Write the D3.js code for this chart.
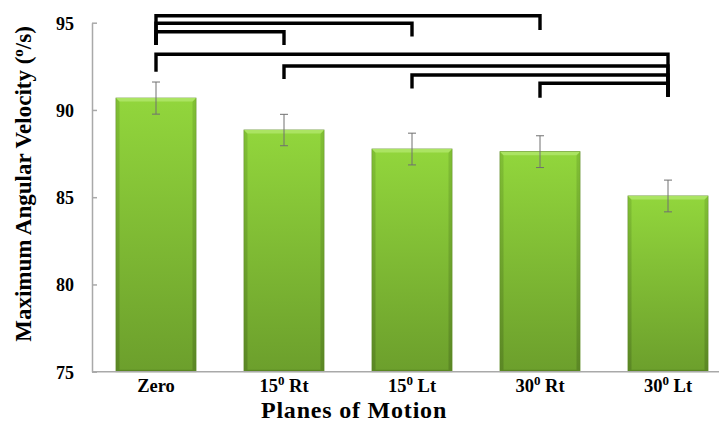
<!DOCTYPE html>
<html>
<head>
<meta charset="utf-8">
<script src="https://cdn.jsdelivr.net/npm/d3@7/dist/d3.min.js"></script>
<style>
  html, body { margin: 0; padding: 0; background: #fff; }
  svg { display: block; }
  text { font-family: "Liberation Serif", "Times New Roman", serif; font-weight: bold; fill: #000; }
</style>
</head>
<body>
<svg id="chart" width="719" height="423"></svg>
<script>
// Planes of motion; "^" marks a superscript "0" (degrees)
const categories = ["Zero", "15^0 Rt", "15^0 Lt", "30^0 Rt", "30^0 Lt"];
const means = [90.68, 88.85, 87.76, 87.61, 85.07];
const errors = [0.92, 0.90, 0.91, 0.91, 0.91];
const yTicks = [75, 80, 85, 90, 95];

// Significance brackets: from / to category index, bar level and end-drop levels (°/s)
const bracketFrom = [0, 0, 0, 0, 1, 2, 3];
const bracketTo = [3, 2, 1, 4, 4, 4, 4];
const bracketLevel = [95.40, 94.97, 94.48, 93.19, 92.52, 92.00, 91.53];
const bracketDropFrom = [93.82, 93.82, 93.82, 92.29, 91.87, 91.33, 90.80];
const bracketDropTo = [94.68, 94.30, 93.82, 90.86, 90.86, 90.86, 90.86];

const svg = d3.select("#chart");

const x = d3.scaleBand().domain(categories).range([92, 732])
  .paddingInner(0.375).paddingOuter(0.1875);
const y = d3.scaleLinear().domain([75, 95]).range([371.7, 22.7]);

// gradients for the bevelled bars
const defs = svg.append("defs");
const g1 = defs.append("linearGradient").attr("id", "barFill")
  .attr("x1", 0).attr("y1", 0).attr("x2", 0).attr("y2", 1);
g1.append("stop").attr("offset", "0%").attr("stop-color", "#92d63c");
g1.append("stop").attr("offset", "100%").attr("stop-color", "#6c9f2c");
const g2 = defs.append("linearGradient").attr("id", "sideFill")
  .attr("x1", 0).attr("y1", 0).attr("x2", 0).attr("y2", 1);
g2.append("stop").attr("offset", "0%").attr("stop-color", "#7bb832");
g2.append("stop").attr("offset", "100%").attr("stop-color", "#557f22");

// y axis with inward ticks
const yAxis = svg.append("g").attr("transform", `translate(${x.range()[0]},0)`)
  .call(d3.axisLeft(y).tickValues(yTicks).tickSizeInner(-5).tickSizeOuter(0).tickPadding(18));
yAxis.select(".domain").attr("stroke", "#a9a9a9").attr("stroke-width", 1.5);
yAxis.selectAll(".tick line").attr("stroke", "#a9a9a9").attr("stroke-width", 1.5);
yAxis.selectAll(".tick text")
  .style("font-family", "'Liberation Serif', serif").style("font-weight", "bold")
  .style("font-size", "18px").attr("fill", "#000").attr("dy", "0.36em");

// bars
const bars = svg.append("g").selectAll("g").data(categories).join("g");
const bw = x.bandwidth();
const bevel = 3.5;
bars.append("rect")
  .attr("x", d => x(d)).attr("y", (d, i) => y(means[i]))
  .attr("width", bw).attr("height", (d, i) => y(75) - y(means[i]))
  .attr("fill", "url(#barFill)").attr("stroke", "#5e8c25").attr("stroke-width", 0.8);
// side shading
bars.append("path")
  .attr("d", (d, i) => {
    const x0 = x(d), t = y(means[i]), b = y(75);
    return `M${x0},${t}L${x0 + bevel},${t + bevel}L${x0 + bevel},${b - 1}L${x0},${b}Z` +
           `M${x0 + bw},${t}L${x0 + bw - bevel},${t + bevel}L${x0 + bw - bevel},${b - 1}L${x0 + bw},${b}Z`;
  })
  .attr("fill", "url(#sideFill)").attr("opacity", 0.75);
// top highlight bevel
bars.append("path")
  .attr("d", (d, i) => {
    const x0 = x(d), t = y(means[i]);
    return `M${x0},${t}L${x0 + bw},${t}L${x0 + bw - bevel},${t + bevel}L${x0 + bevel},${t + bevel}Z`;
  })
  .attr("fill", "#abe462");
// bottom bevel
bars.append("path")
  .attr("d", d => {
    const x0 = x(d), b = y(75);
    return `M${x0},${b}L${x0 + bw},${b}L${x0 + bw - bevel},${b - 2}L${x0 + bevel},${b - 2}Z`;
  })
  .attr("fill", "#5a8722");

// x axis line
svg.append("line")
  .attr("x1", x.range()[0]).attr("x2", 719)
  .attr("y1", y(75)).attr("y2", y(75))
  .attr("stroke", "#a9a9a9").attr("stroke-width", 1.5);

// error bars
const eb = svg.append("g").attr("stroke", "#707070").attr("stroke-width", 1).attr("fill", "none");
categories.forEach((c, i) => {
  const cx = x(c) + bw / 2;
  const hi = y(means[i] + errors[i]), lo = y(means[i] - errors[i]);
  eb.append("path").attr("d", `M${cx},${hi}V${lo}M${cx - 4},${hi}H${cx + 4}M${cx - 4},${lo}H${cx + 4}`);
});

// category labels with superscript degree zero
const xl = svg.append("g");
categories.forEach(c => {
  const t = xl.append("text")
    .attr("x", x(c) + bw / 2).attr("y", 392)
    .attr("text-anchor", "middle").style("font-size", "18.5px");
  const parts = c.split(" ");
  if (parts[0].includes("^")) {
    const [base, sup] = parts[0].split("^");
    t.append("tspan").text(base);
    t.append("tspan").attr("dy", -7).style("font-size", "13px").text(sup);
    t.append("tspan").attr("dy", 7).text(" " + parts.slice(1).join(" "));
  } else {
    t.text(c);
  }
});

// significance brackets
const br = svg.append("g").attr("stroke", "#000").attr("stroke-width", 3.4)
  .attr("fill", "none").attr("stroke-linecap", "square").attr("stroke-linejoin", "miter");
bracketFrom.forEach((a, k) => {
  const xa = x(categories[a]) + bw / 2, xb = x(categories[bracketTo[k]]) + bw / 2;
  br.append("path")
    .attr("d", `M${xa},${y(bracketDropFrom[k])}V${y(bracketLevel[k])}H${xb}V${y(bracketDropTo[k])}`);
});

// axis titles
svg.append("text")
  .attr("transform", "translate(31,184) rotate(-90)")
  .attr("text-anchor", "middle").style("font-size", "23px")
  .call(t => {
    t.append("tspan").text("Maximum Angular Velocity (");
    t.append("tspan").attr("dy", -8).style("font-size", "15px").text("o");
    t.append("tspan").attr("dy", 8).text("/s)");
  });

svg.append("text")
  .attr("x", 354).attr("y", 417.5)
  .attr("text-anchor", "middle").style("font-size", "24px").style("letter-spacing", "0.8px")
  .text("Planes of Motion");
</script>
</body>
</html>
